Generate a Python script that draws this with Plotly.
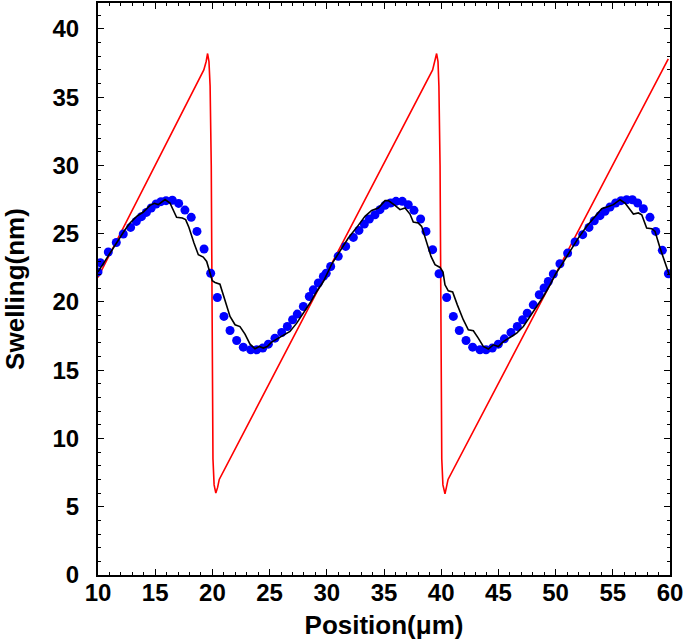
import plotly.graph_objects as go

# ---- data ----
red_x = [10.0, 19.25, 19.45, 19.58, 19.7, 19.8, 19.9, 19.97, 20.0, 20.05, 20.15, 20.3,
         20.45, 20.6, 39.25, 39.45, 39.6, 39.72, 39.8, 39.9, 39.97, 40.0, 40.05, 40.15,
         40.33, 40.45, 40.6, 59.85]
red_y = [21.8, 37.0, 37.6, 38.2, 37.6, 35.8, 30.0, 20.0, 12.0, 8.5, 6.6, 6.0,
         6.4, 7.0, 37.0, 37.6, 38.2, 37.6, 35.8, 30.0, 20.0, 12.0, 8.5, 6.6,
         5.95, 6.4, 7.0, 37.8]

black_x = [10.0, 10.61, 11.2, 11.78, 12.36, 12.8, 13.38, 13.96, 14.55, 14.92, 15.27, 15.86,
           16.29, 16.87, 17.37, 17.66, 17.95, 18.39, 18.77, 19.2, 19.5, 19.99, 20.23, 20.66,
           21.1, 21.54, 21.98, 22.41, 22.85, 23.29, 23.72, 24.1, 24.45, 24.8, 25.18, 25.62,
           26.2, 26.78, 27.37, 27.95, 28.53, 29.12, 29.7, 30.43, 31.15, 31.88, 32.75, 33.34,
           33.92, 34.5, 35.09, 35.38, 35.96, 36.4, 36.84, 37.27, 37.56, 38.0, 38.29, 38.73,
           39.11, 39.46, 39.9, 40.16, 40.33, 40.62, 41.0, 41.41, 41.93, 42.37, 42.81, 43.24,
           43.68, 44.12, 44.55, 44.99, 45.43, 46.01, 46.6, 47.18, 47.76, 48.35, 48.93, 49.51,
           50.0, 50.53, 51.26, 51.98, 52.72, 53.44, 54.03, 54.61, 55.05, 55.63, 56.07, 56.8,
           57.24, 57.53, 57.96, 58.4, 58.69, 59.13, 59.56, 59.91]
black_y = [22.2, 23.02, 23.83, 24.56, 25.29, 25.78, 26.27, 26.59, 27.08, 27.23, 27.13, 27.5,
           27.25, 26.2, 26.15, 26.03, 25.46, 24.32, 23.46, 23.29, 22.97, 21.55, 21.43, 21.3,
           20.16, 18.94, 18.33, 18.2, 17.65, 16.91, 16.57, 16.74, 16.62, 16.74, 17.06, 17.28,
           17.52, 17.84, 18.45, 19.18, 19.92, 20.77, 21.5, 22.78, 23.75, 24.68, 25.61, 26.27,
           26.71, 26.88, 27.42, 27.42, 27.08, 26.76, 26.88, 26.44, 25.86, 25.78, 25.54, 24.44,
           23.34, 22.73, 22.53, 22.19, 21.26, 20.82, 20.73, 19.79, 18.7, 17.96, 17.89, 17.35,
           16.74, 16.55, 16.86, 16.74, 17.1, 17.4, 17.72, 18.2, 18.94, 19.67, 20.4, 21.26,
           22.05, 22.73, 23.75, 24.68, 25.54, 26.27, 26.83, 27.0, 27.13, 27.49, 27.25, 26.44,
           26.52, 26.39, 25.42, 25.37, 25.17, 23.95, 22.85, 22.05]

blue_x = [10.0, 10.2, 10.9, 11.6, 12.21, 12.85, 13.35, 13.8, 14.23, 14.65, 15.08, 15.5,
          15.95, 16.5, 17.05, 17.6, 18.15, 18.65, 19.27, 19.85, 20.43, 21.01, 21.54, 22.12,
          22.7, 23.35, 23.87, 24.4, 24.89, 25.47, 26.06, 26.55, 27.01, 27.42, 27.95, 28.47,
          28.82, 29.26, 29.7, 29.95, 30.34, 31.0, 31.65, 32.32, 32.81, 33.28, 33.72, 34.21,
          34.65, 35.09, 35.58, 36.05, 36.6, 37.12, 37.62, 38.2, 38.67, 39.25, 39.81, 40.48,
          41.06, 41.58, 42.17, 42.75, 43.39, 43.92, 44.47, 44.99, 45.52, 46.1, 46.65, 47.12,
          47.52, 48.05, 48.57, 48.99, 49.36, 49.8, 50.38, 51.05, 51.7, 52.37, 52.92, 53.38,
          53.88, 54.32, 54.76, 55.25, 55.72, 56.21, 56.71, 57.17, 57.67, 58.25, 58.75, 59.33,
          59.86]
blue_y = [22.2, 22.88, 23.66, 24.36, 24.98, 25.46, 25.9, 26.25, 26.56, 26.88, 27.18, 27.35,
          27.42, 27.45, 27.22, 26.73, 26.2, 25.17, 23.88, 22.1, 20.33, 18.94, 17.91, 17.18,
          16.69, 16.5, 16.5, 16.62, 16.91, 17.35, 17.76, 18.2, 18.7, 19.11, 19.67, 20.4,
          20.89, 21.39, 21.87, 22.1, 22.6, 23.34, 24.07, 24.73, 25.24, 25.71, 26.08, 26.39,
          26.76, 27.08, 27.25, 27.37, 27.37, 27.13, 26.71, 26.08, 25.17, 23.83, 22.07, 20.33,
          18.94, 17.91, 17.18, 16.69, 16.5, 16.5, 16.62, 16.91, 17.3, 17.76, 18.2, 18.7,
          19.18, 19.79, 20.53, 21.02, 21.5, 22.05, 22.8, 23.58, 24.39, 24.93, 25.46, 25.95,
          26.32, 26.64, 26.96, 27.25, 27.42, 27.49, 27.49, 27.25, 26.83, 26.2, 25.17, 23.78,
          22.07]

x_ticks = [10, 15, 20, 25, 30, 35, 40, 45, 50, 55, 60]
y_ticks = [0, 5, 10, 15, 20, 25, 30, 35, 40]

FONT = "Arial"

fig = go.Figure()
fig.add_trace(go.Scatter(x=red_x, y=red_y, mode="lines",
                         line=dict(color="#ff0000", width=1.6), showlegend=False))
fig.add_trace(go.Scatter(x=blue_x, y=blue_y, mode="markers",
                         marker=dict(color="#0000ff", size=9, line=dict(width=0)),
                         showlegend=False))
fig.add_trace(go.Scatter(x=black_x, y=black_y, mode="lines",
                         line=dict(color="black", width=1.6), showlegend=False))

axis_common = dict(
    showgrid=False, zeroline=False, showline=True, linecolor="black", linewidth=2,
    mirror="allticks", ticks="inside", ticklen=6, tickwidth=1, tickcolor="black",
    tickfont=dict(family=FONT, size=24, color="black", weight="bold"),
    minor=dict(ticks="inside", ticklen=3, dtick=1, tickcolor="black", tickwidth=1, showgrid=False),
    automargin=False,
)

fig.update_xaxes(range=[10, 60], tickvals=x_ticks, ticktext=[str(v) for v in x_ticks],
                 title=dict(text="Position(μm)", font=dict(family=FONT, size=26, color="black", weight="bold"),
                            standoff=11),
                 ticklabelstandoff=-5, **axis_common)
fig.update_yaxes(range=[0, 41.9], tickvals=y_ticks, ticktext=[str(v) for v in y_ticks],
                 title=dict(text="Swelling(nm)", font=dict(family=FONT, size=26, color="black", weight="bold"),
                            standoff=27),
                 ticklabelstandoff=12, **axis_common)

fig.update_layout(width=685, height=644, plot_bgcolor="white", paper_bgcolor="white",
                  margin=dict(l=98, r=15, t=3, b=69, autoexpand=False))

fig.write_html("out.html", config={"displayModeBar": False},
               post_script="document.body.style.margin='0';document.body.style.overflow='hidden';")
